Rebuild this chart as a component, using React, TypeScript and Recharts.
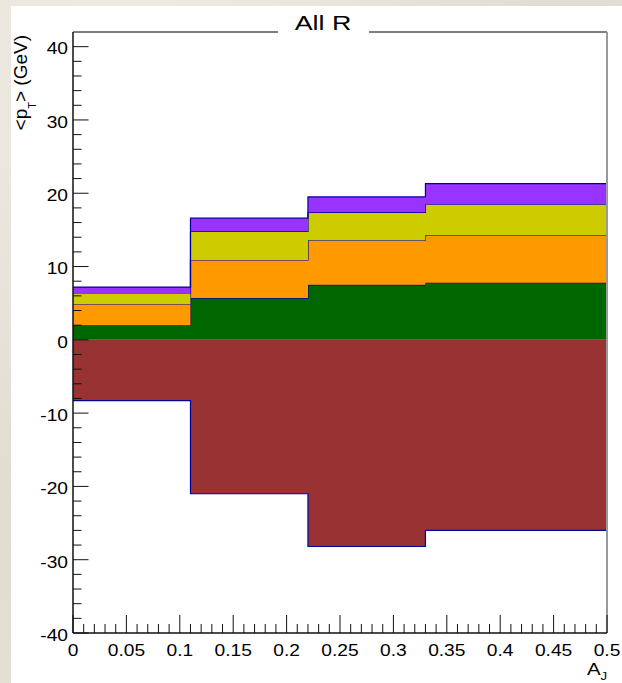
import React from "react";
import { ComposedChart, Area, XAxis, YAxis, ReferenceLine } from "recharts";

// histogram bins in A_J (last edge closes the final step)
const binEdges = [0, 0.11, 0.22, 0.33, 0.5];

// mean pT contributions per bin (GeV)
const green = [2.0, 5.7, 7.5, 7.8];
const orange = [2.9, 5.2, 6.1, 6.5];
const yellow = [1.5, 3.9, 3.8, 4.2];
const violet = [0.8, 1.8, 2.1, 2.8];
const brown = [-8.3, -21.0, -28.2, -26.0];

const xMajor = [0, 0.05, 0.1, 0.15, 0.2, 0.25, 0.3, 0.35, 0.4, 0.45, 0.5];
const yMajor = [-40, -30, -20, -10, 0, 10, 20, 30, 40];

const FONT = "'Liberation Sans', Arial, Helvetica, sans-serif";
const EDGE = "#000099";

const rows = binEdges.map((x, i) => {
  const b = Math.min(i, green.length - 1);
  return {
    x,
    green: green[b],
    orange: orange[b],
    yellow: yellow[b],
    violet: violet[b],
    brown: brown[b],
  };
});

// ROOT-style ticks: majors plus 4 minors in between
const xTicks: number[] = [];
for (let i = 0; i <= 50; i++) xTicks.push(i / 100);
const yTicks: number[] = [];
for (let v = -40; v <= 40; v += 2) yTicks.push(v);

const isMajor = (list: number[], v: number) => list.some((m) => Math.abs(m - v) < 1e-6);
const fmtX = (v: number) => (v === 0 ? "0" : String(+v.toFixed(2)));

function XTick(props: any) {
  const { x, y, payload } = props;
  const v = payload.value as number;
  const major = isMajor(xMajor, v);
  return (
    <g>
      <line x1={x} x2={x} y1={y} y2={y - (major ? 18 : 9)} stroke="#111" strokeWidth={1} />
      {major && (
        <text
          transform={`translate(${x},${y + 23}) scale(1.2,1)`}
          textAnchor="middle"
          fontSize={16}
          fontFamily={FONT}
          fill="#000"
        >
          {fmtX(v)}
        </text>
      )}
    </g>
  );
}

function YTick(props: any) {
  const { x, y, payload } = props;
  const v = payload.value as number;
  const major = isMajor(yMajor, v);
  return (
    <g>
      <line x1={x} x2={x + (major ? 15.5 : 8.5)} y1={y} y2={y} stroke="#111" strokeWidth={1} />
      {major && (
        <text
          transform={`translate(${x - 5},${y + 7.8}) scale(1.2,1)`}
          textAnchor="end"
          fontSize={16}
          fontFamily={FONT}
          fill="#000"
        >
          {v}
        </text>
      )}
    </g>
  );
}

export default function App() {
  return (
    <div
      style={{
        position: "absolute",
        left: 0,
        top: 0,
        width: 622,
        height: 683,
        overflow: "hidden",
        background:
          "radial-gradient(ellipse at 20% 10%, #eeebe3 0%, transparent 60%), radial-gradient(ellipse at 80% 90%, #d9d5ca 0%, transparent 55%), linear-gradient(160deg, #e4e0d6, #dedacf 50%, #e8e5dc)",
      }}
    >
      <div style={{ position: "absolute", left: 11, top: 6, right: 0, bottom: 0, background: "#fff" }} />
      <div style={{ position: "absolute", left: 0, top: 0 }}>
        <ComposedChart width={622} height={683} data={rows} margin={{ top: 32, right: 15, bottom: 0, left: 0 }}>
          <XAxis
            dataKey="x"
            type="number"
            domain={[0, 0.5]}
            allowDataOverflow
            ticks={xTicks}
            interval={0}
            height={50}
            tickSize={0}
            tickMargin={0}
            tickLine={false}
            tick={(p: any) => <XTick {...p} />}
            axisLine={{ stroke: "#111", strokeWidth: 1.5 }}
          />
          <YAxis
            type="number"
            domain={[-40, 42]}
            allowDataOverflow
            ticks={yTicks}
            interval={0}
            width={73}
            tickSize={0}
            tickMargin={0}
            tickLine={false}
            tick={(p: any) => <YTick {...p} />}
            axisLine={{ stroke: "#111", strokeWidth: 1.5 }}
          />
          <Area
            dataKey="brown"
            type="stepAfter"
            fill="#993333"
            fillOpacity={1}
            stroke={EDGE}
            strokeWidth={1.2}
            dot={false}
            activeDot={false}
            isAnimationActive={false}
          />
          <Area
            dataKey="green"
            stackId="pt"
            type="stepAfter"
            fill="#006600"
            fillOpacity={1}
            stroke={EDGE}
            strokeWidth={1.2}
            dot={false}
            activeDot={false}
            isAnimationActive={false}
          />
          <Area
            dataKey="orange"
            stackId="pt"
            type="stepAfter"
            fill="#ff9900"
            fillOpacity={1}
            stroke={EDGE}
            strokeWidth={1.2}
            dot={false}
            activeDot={false}
            isAnimationActive={false}
          />
          <Area
            dataKey="yellow"
            stackId="pt"
            type="stepAfter"
            fill="#cccc00"
            fillOpacity={1}
            stroke={EDGE}
            strokeWidth={1.2}
            dot={false}
            activeDot={false}
            isAnimationActive={false}
          />
          <Area
            dataKey="violet"
            stackId="pt"
            type="stepAfter"
            fill="#9933ff"
            fillOpacity={1}
            stroke={EDGE}
            strokeWidth={1.2}
            dot={false}
            activeDot={false}
            isAnimationActive={false}
          />
          <ReferenceLine y={42} stroke="#000" strokeWidth={1.2} />
          <ReferenceLine x={0.5} stroke="#999" strokeWidth={2} />
        </ComposedChart>
      </div>
      <svg
        width={622}
        height={683}
        style={{ position: "absolute", left: 0, top: 0, pointerEvents: "none" }}
        fontFamily={FONT}
      >
        <rect x={278} y={26} width={91} height={12} fill="#fff" />
        <text transform="translate(323,30) scale(1.28,1)" textAnchor="middle" fontSize={21} fill="#000">
          All R
        </text>
        <text transform="translate(27,35) rotate(-90)" textAnchor="end" fontSize={19} fill="#000">
          {"<p"}
          <tspan fontSize={11} dy={9}>
            T
          </tspan>
          <tspan fontSize={19} dy={-9}>
            {"> (GeV)"}
          </tspan>
        </text>
        <text transform="translate(587,675) scale(1.2,1)" fontSize={17} fill="#000">
          A
          <tspan fontSize={11} dy={5}>
            J
          </tspan>
        </text>
      </svg>
    </div>
  );
}
